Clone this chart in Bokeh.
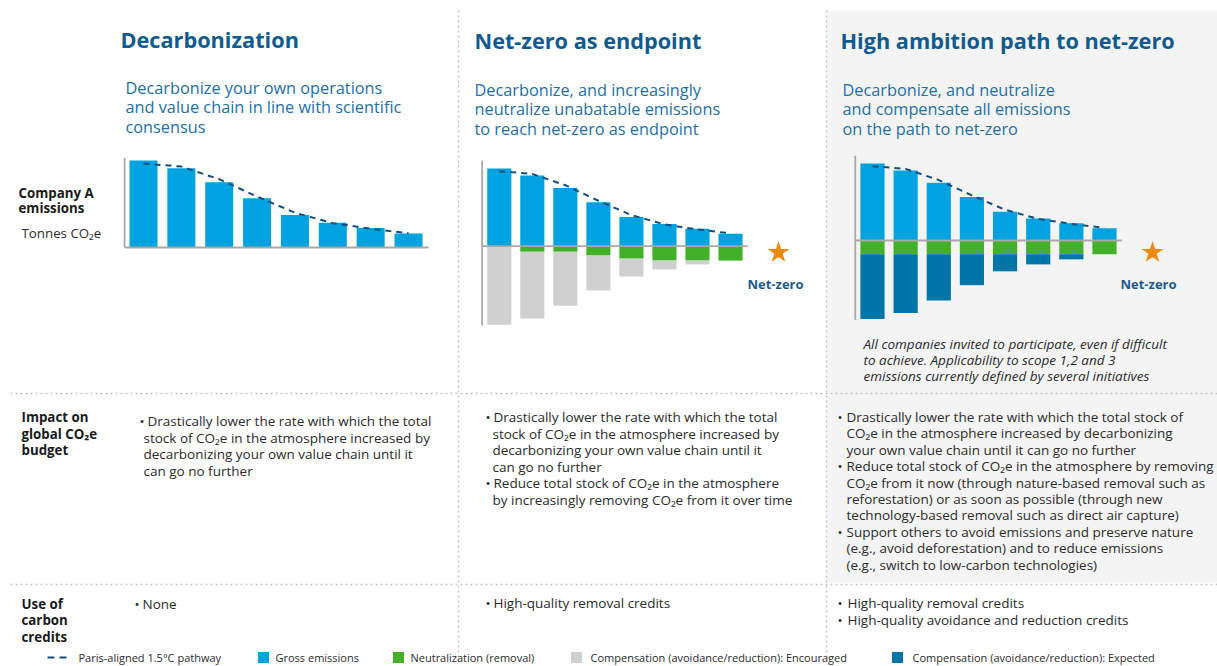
import numpy as np
from bokeh.plotting import figure
from bokeh.models import Range1d
from bokeh.core.properties import value
from bokeh.embed import file_html
from bokeh.resources import INLINE

# ---------------- data ----------------
periods = [1, 2, 3, 4, 5, 6, 7, 8]
gross_emissions = [100, 91, 75, 56.5, 37.5, 28.5, 22.5, 16]
paris_pathway = [96.5, 93, 78.5, 58.5, 40, 28, 21.5, 16.5]
neutralization_endpoint = [0, 7, 7, 12, 16, 18.5, 18.5, 18.5]
compensation_encouraged = [101, 86, 69.5, 45, 23, 11.5, 5, 0]
neutralization_high = [18, 18, 18, 18, 18, 18, 18, 18]
compensation_expected = [84, 76, 60, 40, 22, 13, 6.5, 0]

panel_titles = ["Decarbonization", "Net-zero as endpoint", "High ambition path to net-zero"]
panel_subtitles = [
    ["Decarbonize your own operations", "and value chain in line with scientific", "consensus"],
    ["Decarbonize, and increasingly", "neutralize unabatable emissions", "to reach net-zero as endpoint"],
    ["Decarbonize, and neutralize", "and compensate all emissions", "on the path to net-zero"],
]
row_label_emissions = ["Company A", "emissions"]
row_label_units = "Tonnes CO\u2082e"
row_label_impact = ["Impact on", "global CO\u2082e", "budget"]
row_label_credits = ["Use of", "carbon", "credits"]
net_zero_label = "Net-zero"
high_ambition_note = [
    "All companies invited to participate, even if difficult",
    "to achieve. Applicability to scope 1,2 and 3",
    "emissions currently defined by several initiatives",
]
impact_bullets = [
    [["Drastically lower the rate with which the total",
      "stock of CO\u2082e in the atmosphere increased by",
      "decarbonizing your own value chain until it",
      "can go no further"]],
    [["Drastically lower the rate with which the total",
      "stock of CO\u2082e in the atmosphere increased by",
      "decarbonizing your own value chain until it",
      "can go no further"],
     ["Reduce total stock of CO\u2082e in the atmosphere",
      "by increasingly removing CO\u2082e from it over time"]],
    [["Drastically lower the rate with which the total stock of",
      "CO\u2082e in the atmosphere increased by decarbonizing",
      "your own value chain until it can go no further"],
     ["Reduce total stock of CO\u2082e in the atmosphere by removing",
      "CO\u2082e from it now (through nature-based removal such as",
      "reforestation) or as soon as possible (through new",
      "technology-based removal such as direct air capture)"],
     ["Support others to avoid emissions and preserve nature",
      "(e.g., avoid deforestation) and to reduce emissions",
      "(e.g., switch to low-carbon technologies)"]],
]
credit_bullets = [
    [["None"]],
    [["High-quality removal credits"]],
    [["High-quality removal credits"], ["High-quality avoidance and reduction credits"]],
]
legend_labels = ["Paris-aligned 1.5\u00b0C pathway", "Gross emissions", "Neutralization (removal)",
                 "Compensation (avoidance/reduction): Encouraged",
                 "Compensation (avoidance/reduction): Expected"]

# ---------------- style ----------------
FONT = "Open Sans"
C_GROSS = "#00a3e0"
C_NEUTRAL = "#43b02a"
C_ENC = "#d0d0d0"
C_EXP = "#0076a8"
C_PATH = "#104f80"
C_AXIS = "#a8a8a8"
C_TITLE = "#0f5b8f"
C_SUB = "#2270a5"
C_TEXT = "#2b2b2b"
C_SEP = "#c4c4c4"
C_STAR = "#ed8b00"

W, H = 1217, 666
X0, Y0 = 0, 0
p = figure(width=W, height=H, x_range=Range1d(X0, X0 + W), y_range=Range1d(Y0 + H, Y0),
           output_backend="svg", toolbar_location=None, min_border=0,
           x_axis_location=None, y_axis_location=None)
p.grid.visible = False
p.outline_line_color = None
p.background_fill_color = "white"
p.border_fill_color = "white"


def chart_scale(name, first_px, spacing, baseline_px, px_per_unit):
    xs = periods[0] - (first_px - X0) / spacing
    ys = -(Y0 + H - baseline_px) / px_per_unit
    return name, Range1d(xs, xs + W / spacing), Range1d(ys, ys + H / px_per_unit)


scales = [chart_scale("c1", 143, 37.86, 247, 0.87),
          chart_scale("c2", 498.8, 33.03, 245.7, 0.777),
          chart_scale("c3", 872, 33.14, 240, 0.77)]
p.extra_x_ranges = {n: xr for n, xr, yr in scales}
p.extra_y_ranges = {n: yr for n, xr, yr in scales}

# background of third panel
p.quad(left=[826], right=[X0 + W], top=[10], bottom=[582], fill_color="#f4f4f4", line_color=None)

# dotted separators
p.segment(x0=[458, 826], x1=[458, 826], y0=[10, 10], y1=[660, 660],
          line_color=C_SEP, line_width=1.4, line_dash="2 3")
p.segment(x0=[10, 10], x1=[X0 + W, X0 + W], y0=[393, 584], y1=[393, 584],
          line_color=C_SEP, line_width=1.4, line_dash="2 3")

gross = np.array(gross_emissions)
n1 = np.array(neutralization_endpoint)
e1 = np.array(compensation_encouraged)
n2 = np.array(neutralization_high)
e2 = np.array(compensation_expected)

# ---- chart 1
kw = dict(x_range_name="c1", y_range_name="c1")
p.vbar(x=periods, width=0.74, top=gross, bottom=0, fill_color=C_GROSS, line_color=None, **kw)
p.segment(x0=[0.5, 0.5], x1=[0.5, 8.53], y0=[103, 0], y1=[0, 0], line_color=C_AXIS, line_width=1.8, **kw)
p.line(periods, paris_pathway, line_color=C_PATH, line_width=2, line_dash="6 5", **kw)

# ---- chart 2
kw = dict(x_range_name="c2", y_range_name="c2")
p.vbar(x=periods, width=0.73, top=gross, bottom=0, fill_color=C_GROSS, line_color=None, **kw)
p.vbar(x=periods, width=0.73, top=0, bottom=-n1, fill_color=C_NEUTRAL, line_color=None, **kw)
p.vbar(x=periods, width=0.73, top=-n1, bottom=-(n1 + e1), fill_color=C_ENC, line_color=None, **kw)
p.segment(x0=[0.48, 0.48], x1=[0.48, 8.52], y0=[110, 0], y1=[-102, 0], line_color=C_AXIS, line_width=1.8, **kw)
p.line(periods, paris_pathway, line_color=C_PATH, line_width=2, line_dash="6 5", **kw)

# ---- chart 3
kw = dict(x_range_name="c3", y_range_name="c3")
p.vbar(x=periods, width=0.73, top=gross, bottom=0, fill_color=C_GROSS, line_color=None, **kw)
p.vbar(x=periods, width=0.73, top=0, bottom=-n2, fill_color=C_NEUTRAL, line_color=None, **kw)
p.vbar(x=periods, width=0.73, top=-n2, bottom=-(n2 + e2), fill_color=C_EXP, line_color=None, **kw)
p.segment(x0=[0.48, 0.48], x1=[0.48, 8.52], y0=[110, 0], y1=[-103, 0], line_color=C_AXIS, line_width=1.8, **kw)
p.line(periods, paris_pathway, line_color=C_PATH, line_width=2, line_dash="6 5", **kw)

# stars + net-zero labels
p.scatter(x=[778, 1152], y=[252, 252], marker="star", size=23, fill_color=C_STAR, line_color=None)


def txt(xs, ys, lines, size, color, style="normal", align="left"):
    n = len(lines)
    if not isinstance(xs, list):
        xs = [xs] * n
    p.text(x=xs, y=ys, text=lines, text_font=value(FONT), text_font_size=value(f"{size}px"),
           text_font_style=style, text_color=color, text_baseline="middle", text_align=align)


txt([775, 1148], [283, 283], [net_zero_label] * 2, 13, "#1d5a8a", "bold", "center")

# titles & subtitles
title_pos = [(120, 38.5), (474, 40), (840, 40)]
sub_pos = [(125, 87), (474, 89), (842, 89)]
for t, (x, y) in zip(panel_titles, title_pos):
    txt(x, [y], [t], 21.7, C_TITLE, "bold")
for lines, (x, y) in zip(panel_subtitles, sub_pos):
    txt(x, [y + 19.5 * i for i in range(len(lines))], lines, 16.3, C_SUB)

# row labels
txt(18, [192.5, 207.5], row_label_emissions, 13.3, "#1a1a1a", "bold")
txt(21, [232], [row_label_units], 13.3, C_TEXT)
txt(21, [416.5, 433, 449.5], row_label_impact, 13.3, "#1a1a1a", "bold")
txt(21, [603, 619.5, 636], row_label_credits, 13.3, "#1a1a1a", "bold")

# italic note
txt(863, [343, 359.3, 375.6], high_ambition_note, 13.5, C_TEXT, "italic")


def bullets(items, bx, tx, cx, y0, dy=16.5, size=13.5):
    y = y0
    for item in items:
        txt(bx, [y], ["\u2022"], size, C_TEXT)
        xs = [tx] + [cx] * (len(item) - 1)
        txt(xs, [y + dy * i for i in range(len(item))], item, size, C_TEXT)
        y += dy * len(item)


bullets(impact_bullets[0], 139, 147, 143, 420.5)
bullets(impact_bullets[1], 485, 493, 492, 416.5)
bullets(impact_bullets[2], 837, 846, 846, 416.5, dy=16.4)
bullets(credit_bullets[0], 134, 142, 142, 603)
bullets(credit_bullets[1], 485, 493, 493, 602.5)
bullets(credit_bullets[2], 837, 847, 847, 602.5, dy=16.8)

# legend
LY = 657
p.segment(x0=[47], x1=[70], y0=[LY], y1=[LY], line_color=C_PATH, line_width=2, line_dash="7 5")
p.rect(x=[263, 398, 576, 897], y=[LY] * 4, width=11, height=11,
       fill_color=[C_GROSS, C_NEUTRAL, C_ENC, C_EXP], line_color=None)
txt([78, 275, 410, 590, 912], [LY] * 5, legend_labels, 11, C_TEXT)

open("out.html", "w").write(file_html(p, INLINE))
